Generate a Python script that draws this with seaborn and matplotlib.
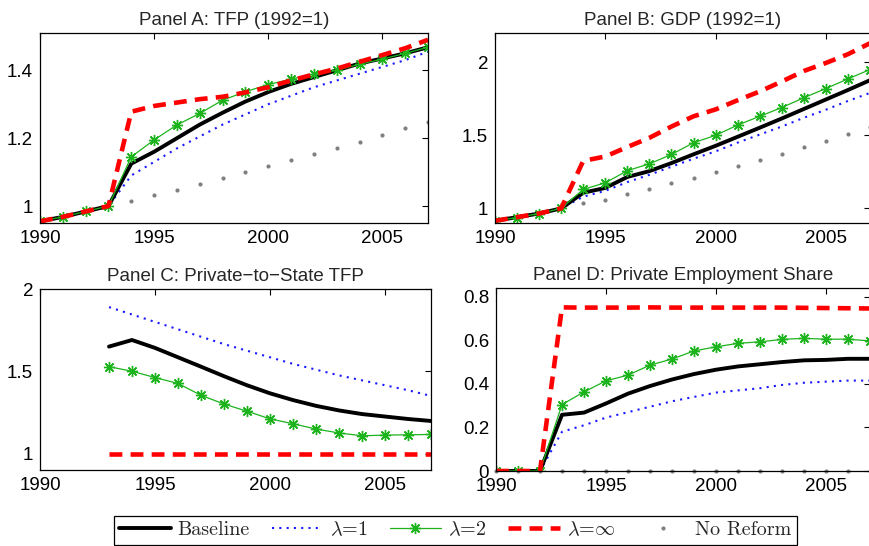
import numpy as np
import pandas as pd
import matplotlib
matplotlib.use("Agg")
import matplotlib.pyplot as plt
import seaborn as sns

# ---- data ----
years = list(range(1990, 2008))
years_c = list(range(1993, 2008))

tfp_baseline = [0.955, 0.968, 0.984, 1.000, 1.125, 1.160, 1.200, 1.240, 1.275, 1.308,
                1.336, 1.360, 1.380, 1.400, 1.420, 1.435, 1.450, 1.468]
tfp_lam1 = [0.955, 0.968, 0.984, 1.000, 1.090, 1.130, 1.170, 1.205, 1.240, 1.270,
            1.300, 1.325, 1.350, 1.370, 1.390, 1.410, 1.430, 1.455]
tfp_lam2 = [0.955, 0.968, 0.984, 1.000, 1.145, 1.195, 1.239, 1.273, 1.312, 1.337,
            1.358, 1.374, 1.389, 1.400, 1.418, 1.433, 1.450, 1.468]
tfp_laminf = [0.955, 0.968, 0.984, 1.000, 1.278, 1.295, 1.305, 1.315, 1.322, 1.335,
              1.350, 1.370, 1.388, 1.405, 1.425, 1.445, 1.465, 1.490]
tfp_noreform = [0.955, 0.968, 0.984, 1.000, 1.015, 1.032, 1.048, 1.065, 1.082, 1.100,
                1.117, 1.135, 1.153, 1.172, 1.190, 1.210, 1.230, 1.248]

gdp_baseline = [0.915, 0.940, 0.965, 1.000, 1.107, 1.140, 1.215, 1.255, 1.310, 1.370,
                1.428, 1.490, 1.552, 1.615, 1.680, 1.745, 1.810, 1.877]
gdp_lam1 = [0.915, 0.940, 0.965, 1.000, 1.080, 1.120, 1.180, 1.230, 1.285, 1.340,
            1.390, 1.450, 1.505, 1.560, 1.620, 1.675, 1.735, 1.790]
gdp_lam2 = [0.915, 0.937, 0.965, 1.000, 1.130, 1.175, 1.258, 1.305, 1.369, 1.449,
            1.500, 1.570, 1.630, 1.690, 1.757, 1.820, 1.886, 1.950]
gdp_laminf = [0.915, 0.940, 0.965, 1.000, 1.325, 1.355, 1.420, 1.483, 1.560, 1.630,
              1.677, 1.740, 1.800, 1.868, 1.940, 1.995, 2.055, 2.130]
gdp_noreform = [0.915, 0.940, 0.965, 1.000, 1.034, 1.060, 1.100, 1.134, 1.173, 1.210,
                1.248, 1.290, 1.330, 1.373, 1.419, 1.462, 1.508, 1.556]

rel_baseline = [1.650, 1.690, 1.642, 1.585, 1.528, 1.470, 1.415, 1.366, 1.325, 1.290,
                1.262, 1.240, 1.225, 1.210, 1.198]
rel_lam1 = [1.890, 1.845, 1.800, 1.755, 1.710, 1.665, 1.625, 1.585, 1.545, 1.510,
            1.475, 1.445, 1.415, 1.385, 1.350]
rel_lam2 = [1.528, 1.500, 1.462, 1.426, 1.354, 1.301, 1.257, 1.211, 1.181, 1.149,
            1.125, 1.108, 1.112, 1.114, 1.116]
rel_laminf = [1.0] * 15

emp_baseline = [0.0, 0.0, 0.0, 0.258, 0.268, 0.310, 0.355, 0.390, 0.420, 0.445,
                0.465, 0.480, 0.490, 0.500, 0.508, 0.510, 0.515, 0.515]
emp_lam1 = [0.0, 0.0, 0.0, 0.180, 0.210, 0.245, 0.270, 0.295, 0.320, 0.340,
            0.360, 0.370, 0.380, 0.395, 0.405, 0.410, 0.415, 0.415]
emp_lam2 = [0.0, 0.0, 0.0, 0.305, 0.363, 0.414, 0.440, 0.486, 0.514, 0.551,
            0.570, 0.586, 0.593, 0.604, 0.609, 0.605, 0.605, 0.597]
emp_laminf = [0.0, 0.0, 0.0, 0.751, 0.750, 0.750, 0.750, 0.751, 0.750, 0.750,
              0.750, 0.750, 0.750, 0.750, 0.749, 0.748, 0.747, 0.746]
emp_noreform = [0.0] * 18

series_labels = ["Baseline", r"$\lambda$=1", r"$\lambda$=2", r"$\lambda$=$\infty$", "No Reform"]

# ---- styling ----
sns.set_theme(style="white")
plt.rcParams["font.family"] = ["Liberation Sans", "DejaVu Sans"]
plt.rcParams["mathtext.fontset"] = "cm"

GREEN = "#1db31d"
ASTERISK = (8, 2, 0)  # eight-armed asterisk marker
STYLES = {
    "Baseline": dict(color="black", linewidth=2.8, linestyle="-"),
    r"$\lambda$=1": dict(color="#1a1aff", linewidth=1.5, linestyle=(0, (1.0, 2.5))),
    r"$\lambda$=2": dict(color=GREEN, linewidth=0.9, linestyle="-", marker=ASTERISK,
                         markersize=8, markeredgecolor=GREEN, markerfacecolor=GREEN,
                         markeredgewidth=1.0),
    r"$\lambda$=$\infty$": dict(color="#ff0000", linewidth=3.3, linestyle=(0, (2.8, 1.8))),
    "No Reform": dict(color="#808080", linewidth=0, linestyle="none", marker="o",
                      markersize=3, markeredgecolor="#808080", markerfacecolor="#808080",
                      markeredgewidth=0),
}
# draw order: dotted and dots first, then baseline, lambda=2, lambda=inf on top
ORDER = ["No Reform", r"$\lambda$=1", "Baseline", r"$\lambda$=2", r"$\lambda$=$\infty$"]

W, H = 869, 546
fig = plt.figure(figsize=(W / 100, H / 100), dpi=100)


def add_axes(l, t, r, b):
    return fig.add_axes([l / W, 1 - b / H, (r - l) / W, (b - t) / H])


panels = [
    dict(rect=(40, 33, 428, 223), title="Panel A: TFP (1992=1)", x=years,
         data={"Baseline": tfp_baseline, r"$\lambda$=1": tfp_lam1, r"$\lambda$=2": tfp_lam2,
               r"$\lambda$=$\infty$": tfp_laminf, "No Reform": tfp_noreform},
         ylim=(0.95, 1.51), yticks=[1, 1.2, 1.4], ylabels=["1", "1.2", "1.4"]),
    dict(rect=(495, 33, 870, 223), title="Panel B: GDP (1992=1)", x=years,
         data={"Baseline": gdp_baseline, r"$\lambda$=1": gdp_lam1, r"$\lambda$=2": gdp_lam2,
               r"$\lambda$=$\infty$": gdp_laminf, "No Reform": gdp_noreform},
         ylim=(0.9, 2.2), yticks=[1, 1.5, 2], ylabels=["1", "1.5", "2"]),
    dict(rect=(40, 289, 431, 470), title="Panel C: Private\u2212to\u2212State TFP", x=years_c,
         data={"Baseline": rel_baseline, r"$\lambda$=1": rel_lam1, r"$\lambda$=2": rel_lam2,
               r"$\lambda$=$\infty$": rel_laminf},
         ylim=(0.9, 2.0), yticks=[1, 1.5, 2], ylabels=["1", "1.5", "2"]),
    dict(rect=(496, 288, 870, 471), title="Panel D: Private Employment Share", x=years,
         data={"Baseline": emp_baseline, r"$\lambda$=1": emp_lam1, r"$\lambda$=2": emp_lam2,
               r"$\lambda$=$\infty$": emp_laminf, "No Reform": emp_noreform},
         ylim=(0.0, 0.84), yticks=[0, 0.2, 0.4, 0.6, 0.8],
         ylabels=["0", "0.2", "0.4", "0.6", "0.8"]),
]

legend_handles = {}
for p in panels:
    ax = add_axes(*p["rect"])
    for name in ORDER:
        if name not in p["data"]:
            continue
        df = pd.DataFrame({"year": p["x"], "value": p["data"][name]})
        sns.lineplot(data=df, x="year", y="value", ax=ax, legend=False,
                     clip_on=not (name == "No Reform" and p is panels[3]),
                     **STYLES[name])
        line = ax.lines[-1]
        if name not in legend_handles:
            legend_handles[name] = line
    ax.set_xlim(1990, 2007)
    ax.set_ylim(*p["ylim"])
    ax.set_xticks([1990, 1995, 2000, 2005], ["1990", "1995", "2000", "2005"])
    ax.set_yticks(p["yticks"], p["ylabels"])
    ax.set_xlabel("")
    ax.set_ylabel("")
    ax.set_title(p["title"], fontsize=13.5, pad=6)
    ax.tick_params(direction="in", top=True, right=True, length=4, width=0.8,
                   labelsize=13.5, pad=5, colors="black")
    for s in ax.spines.values():
        s.set_visible(True)
        s.set_color("black")
        s.set_linewidth(0.9)
    ax.grid(False)
    ax.set_facecolor("white")

handles = [legend_handles[n] for n in series_labels]
leg = fig.legend(handles, series_labels, loc="lower center",
                 bbox_to_anchor=(455.5 / W, 1.5 / H), ncol=5, frameon=True,
                 fancybox=False, edgecolor="black", framealpha=1,
                 prop={"family": "cmr10", "size": 14.5}, handlelength=2.55,
                 handletextpad=0.35, columnspacing=1.08, borderpad=0.25,
                 numpoints=1, borderaxespad=0)
leg.get_frame().set_linewidth(0.9)

fig.savefig("out.png", dpi=100)
